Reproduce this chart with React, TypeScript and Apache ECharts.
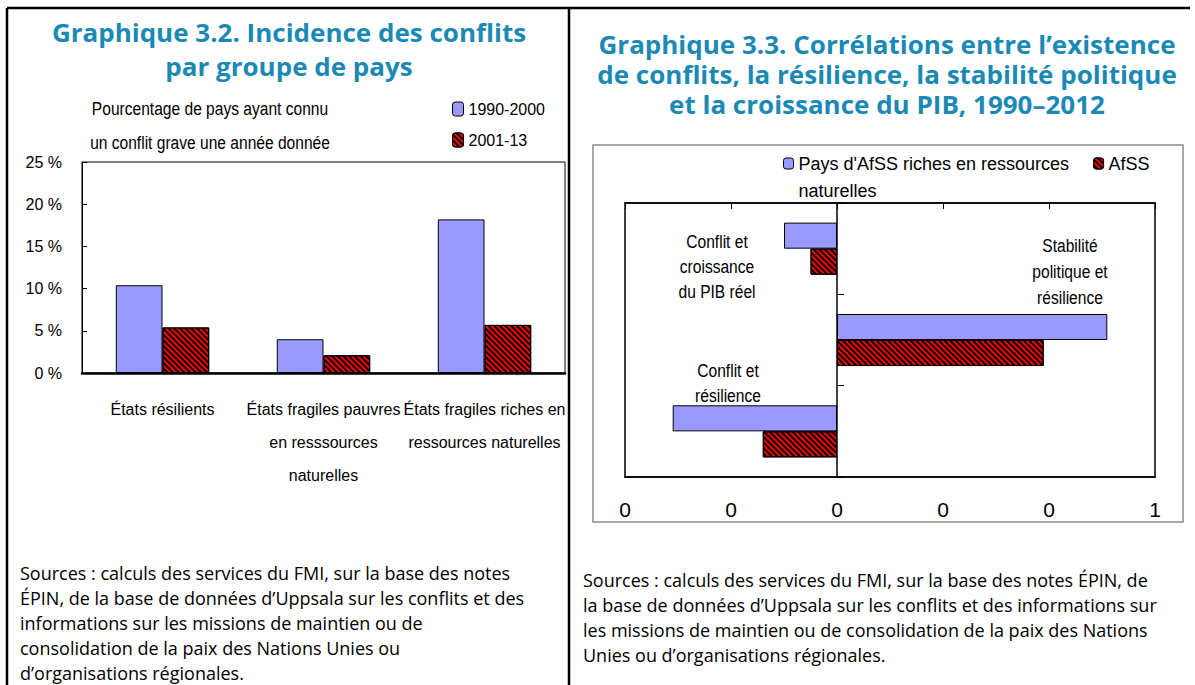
import React, { useEffect, useRef } from 'react';
import * as echarts from 'echarts';

// ---------- Data: Graphique 3.2 ----------
const groupCategories = [
  'États résilients',
  'États fragiles pauvres en resssources naturelles',
  'États fragiles riches en ressources naturelles',
];
const groupLabelLines = [
  'États résilients',
  'États fragiles pauvres\nen resssources\nnaturelles',
  'États fragiles riches en\nressources naturelles',
];
const seriesNames32 = ['1990-2000', '2001-13'];
const incidence1990 = [10.4, 4.0, 18.2];
const incidence2001 = [5.4, 2.1, 5.7];
const yTickSuffix = ' %';

// ---------- Data: Graphique 3.3 ----------
const corrCategories = [
  'Conflit et croissance du PIB réel',
  'Stabilité politique et résilience',
  'Conflit et résilience',
];
const corrLabelLines = [
  'Conflit et\ncroissance\ndu PIB réel',
  'Stabilité\npolitique et\nrésilience',
  'Conflit et\nrésilience',
];
const seriesNames33 = ["Pays d'AfSS riches en ressources naturelles", 'AfSS'];
const corrRich = [-0.1, 0.51, -0.31];
const corrAll = [-0.05, 0.39, -0.14];
const corrTickLabels = ['0', '0', '0', '0', '0', '1'];

// ---------- Texts ----------
const title32 = 'Graphique 3.2. Incidence des conflits\npar groupe de pays';
const title33 =
  'Graphique 3.3. Corrélations entre l’existence\nde conflits, la résilience, la stabilité politique\net la croissance du PIB, 1990–2012';
const subtitle32 = 'Pourcentage de pays ayant connu\nun conflit grave une année donnée';
const sources32 =
  'Sources : calculs des services du FMI, sur la base des notes\nÉPIN, de la base de données d’Uppsala sur les conflits et des\ninformations sur les missions de maintien ou de\nconsolidation de la paix des Nations Unies ou\nd’organisations régionales.';
const sources33 =
  'Sources : calculs des services du FMI, sur la base des notes ÉPIN, de\nla base de données d’Uppsala sur les conflits et des informations sur\nles missions de maintien ou de consolidation de la paix des Nations\nUnies ou d’organisations régionales.';

const ARIAL = '"Liberation Sans", Arial, sans-serif';
const SEGOE = '"Open Sans", "Noto Sans", sans-serif';
const TEAL = '#1a8ab5';
const BLUE = '#9999FF';
const RED = '#FF0000';
const NARROW_SCALE = 0.82;

const hatch = {
  symbol: 'rect',
  symbolSize: 1,
  dashArrayX: [1, 0],
  dashArrayY: [2, 2],
  rotation: Math.PI / 4,
  color: '#000',
};

function narrowText(text: string, x: number, y: number, lineHeight: number, align = 'center') {
  return {
    type: 'text',
    x,
    y,
    scaleX: NARROW_SCALE,
    style: {
      text,
      align,
      verticalAlign: 'top',
      fontFamily: ARIAL,
      fontSize: 19,
      lineHeight,
      fill: '#000',
    },
  };
}

function titleText(text: string, x: number, y: number, lineHeight: number) {
  return {
    type: 'text',
    x,
    y,
    scaleX: 1.04,
    style: {
      text,
      align: 'center',
      verticalAlign: 'top',
      fontFamily: SEGOE,
      fontWeight: 'bold',
      fontSize: 25,
      lineHeight,
      fill: TEAL,
    },
  };
}

export default function App() {
  const ref = useRef<HTMLDivElement>(null);

  useEffect(() => {
    if (!ref.current) return;
    const chart = echarts.init(ref.current, null, { renderer: 'svg' });

    const option: any = {
      animation: false,
      backgroundColor: '#fff',
      legend: [
        {
          orient: 'vertical',
          left: 452,
          top: 101,
          padding: 0,
          itemWidth: 11,
          itemHeight: 14,
          itemGap: 15,
          data: seriesNames32,
          textStyle: { fontFamily: ARIAL, fontSize: 16, color: '#000' },
          itemStyle: { borderColor: '#000', borderWidth: 1 },
          selectedMode: false,
        },
        {
          orient: 'horizontal',
          left: 783,
          top: 123,
          padding: 0,
          itemWidth: 10,
          itemHeight: 11,
          itemGap: 24,
          data: seriesNames33,
          formatter: (name: string) =>
            name === seriesNames33[0]
              ? "\nPays d'AfSS riches en ressources\nnaturelles"
              : name,
          textStyle: { fontFamily: ARIAL, fontSize: 18, color: '#000', lineHeight: 27 },
          itemStyle: { borderColor: '#000', borderWidth: 1 },
          selectedMode: false,
        },
      ],
      grid: [
        {
          left: 82,
          top: 162,
          width: 483,
          height: 211,
          show: true,
          borderColor: '#000',
          borderWidth: 1,
          backgroundColor: 'transparent',
          containLabel: false,
        },
        {
          left: 625,
          top: 203,
          width: 530,
          height: 274,
          show: true,
          borderColor: '#000',
          borderWidth: 1.5,
          backgroundColor: 'transparent',
          containLabel: false,
        },
      ],
      xAxis: [
        {
          gridIndex: 0,
          type: 'category',
          data: groupCategories,
          axisLine: { lineStyle: { color: '#000', width: 2.5 } },
          axisTick: { inside: true, length: 5, lineStyle: { color: '#000' } },
          axisLabel: {
            interval: 0,
            margin: 20,
            fontFamily: ARIAL,
            fontSize: 16,
            lineHeight: 33,
            color: '#000',
            formatter: (_v: string, i: number) => groupLabelLines[i],
          },
        },
        {
          gridIndex: 1,
          type: 'value',
          position: 'top',
          min: -0.4,
          max: 0.6,
          interval: 0.2,
          axisLine: { show: true, lineStyle: { color: '#000', width: 1.5 } },
          axisTick: { show: true, inside: true, length: 6, lineStyle: { color: '#000' } },
          axisLabel: { show: false },
          splitLine: { show: false },
        },
        {
          gridIndex: 1,
          type: 'value',
          position: 'bottom',
          min: -0.4,
          max: 0.6,
          interval: 0.2,
          axisLine: { show: true, lineStyle: { color: '#000', width: 1.5 } },
          axisTick: { show: false },
          axisLabel: {
            show: true,
            margin: 22,
            fontFamily: ARIAL,
            fontSize: 21,
            color: '#000',
            formatter: (_v: number, i: number) => corrTickLabels[i],
          },
          splitLine: { show: false },
        },
      ],
      yAxis: [
        {
          gridIndex: 0,
          type: 'value',
          min: 0,
          max: 25,
          interval: 5,
          axisLine: { show: true, lineStyle: { color: '#000', width: 1 } },
          axisTick: { show: true, inside: true, length: 5, lineStyle: { color: '#000' } },
          axisLabel: {
            margin: 20,
            fontFamily: ARIAL,
            fontSize: 16,
            color: '#000',
            formatter: (v: number) => `${v}${yTickSuffix}`,
          },
          splitLine: { show: false },
        },
        {
          gridIndex: 1,
          type: 'category',
          data: corrCategories,
          inverse: true,
          axisLine: { show: true, onZero: true, onZeroAxisIndex: 1, lineStyle: { color: '#000', width: 1.5 } },
          axisTick: { show: true, inside: true, length: 7, lineStyle: { color: '#000' } },
          axisLabel: { show: false },
          splitLine: { show: false },
        },
      ],
      series: [
        {
          type: 'bar',
          name: seriesNames32[0],
          xAxisIndex: 0,
          yAxisIndex: 0,
          data: incidence1990,
          barGap: '0%',
          barCategoryGap: '42%',
          itemStyle: { color: BLUE, borderColor: '#000', borderWidth: 1 },
        },
        {
          type: 'bar',
          name: seriesNames32[1],
          xAxisIndex: 0,
          yAxisIndex: 0,
          data: incidence2001,
          barGap: '0%',
          barCategoryGap: '42%',
          itemStyle: { color: RED, borderColor: '#000', borderWidth: 1, decal: hatch },
        },
        {
          type: 'bar',
          name: seriesNames33[0],
          xAxisIndex: 1,
          yAxisIndex: 1,
          data: corrRich,
          barGap: '0%',
          barCategoryGap: '43%',
          itemStyle: { color: BLUE, borderColor: '#000', borderWidth: 1 },
        },
        {
          type: 'bar',
          name: seriesNames33[1],
          xAxisIndex: 1,
          yAxisIndex: 1,
          data: corrAll,
          barGap: '0%',
          barCategoryGap: '43%',
          itemStyle: { color: RED, borderColor: '#000', borderWidth: 1, decal: hatch },
        },
      ],
      graphic: [
        // outer frame
        { type: 'line', shape: { x1: 7, y1: 8, x2: 1190, y2: 8 }, style: { stroke: '#000', lineWidth: 2.5 } },
        { type: 'line', shape: { x1: 7, y1: 8, x2: 7, y2: 685 }, style: { stroke: '#000', lineWidth: 2.5 } },
        { type: 'line', shape: { x1: 569, y1: 8, x2: 569, y2: 685 }, style: { stroke: '#000', lineWidth: 2.5 } },
        // grey frame of chart 3.3
        {
          type: 'rect',
          shape: { x: 593, y: 145, width: 590, height: 377 },
          style: { fill: 'none', stroke: '#8c8c8c', lineWidth: 1.5 },
          z: -1,
        },
        // titles
        titleText(title32, 289, 15, 34),
        titleText(title33, 887, 29, 30),
        // subtitle
        narrowText(subtitle32, 210, 91, 34),
        // sources
        {
          type: 'text',
          x: 20,
          y: 560,
          style: {
            text: sources32,
            align: 'left',
            verticalAlign: 'top',
            fontFamily: SEGOE,
            fontSize: 18,
            lineHeight: 25,
            fill: '#000',
          },
        },
        {
          type: 'text',
          x: 583,
          y: 567,
          style: {
            text: sources33,
            align: 'left',
            verticalAlign: 'top',
            fontFamily: SEGOE,
            fontSize: 18,
            lineHeight: 25,
            fill: '#000',
          },
        },
        // category labels inside chart 3.3
        narrowText(corrLabelLines[0], 717, 229, 25),
        narrowText(corrLabelLines[1], 1070, 232, 26),
        narrowText(corrLabelLines[2], 728, 358, 25),
      ],
    };

    chart.setOption(option);
    return () => chart.dispose();
  }, []);

  return (
    <div
      ref={ref}
      style={{ position: 'absolute', left: 0, top: 0, width: 1195, height: 685, background: '#fff' }}
    />
  );
}
